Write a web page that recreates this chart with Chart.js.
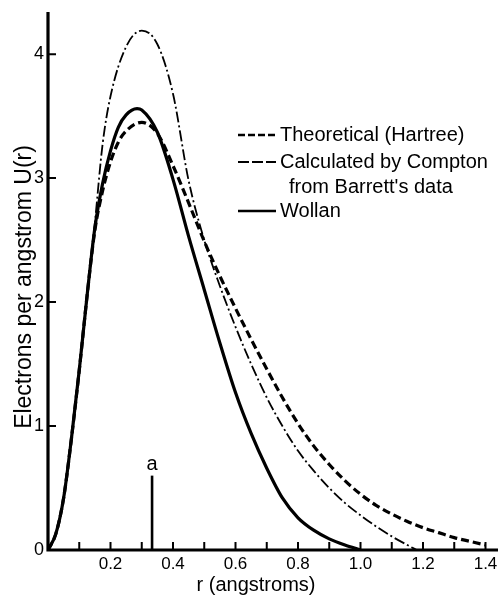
<!DOCTYPE html>
<html><head><meta charset="utf-8">
<script src="https://cdn.jsdelivr.net/npm/chart.js@4.4.0/dist/chart.umd.min.js"></script>
<style>html,body{margin:0;padding:0;background:#fff;}canvas{display:block;}</style>
</head><body>
<canvas id="c" width="499" height="596"></canvas>
<script>
// r (angstroms) grid points and U(r) values for each curve
const rTheo = [0,0.025,0.05,0.075,0.1,0.125,0.15,0.175,0.2,0.225,0.25,0.3,0.35,0.4,0.45,0.5,0.55,0.6,0.65,0.7,0.75,0.8,0.85,0.9,0.95,1.0,1.05,1.1,1.15,1.2,1.25,1.3,1.35,1.4];
const vTheo = [0,0.13,0.42,0.9,1.45,2.05,2.58,2.9,3.13,3.29,3.38,3.45,3.36,3.1,2.8,2.49,2.21,1.95,1.7,1.46,1.23,1.02,0.84,0.69,0.56,0.45,0.36,0.29,0.23,0.18,0.14,0.1,0.07,0.04];
const rCompton = [0,0.025,0.05,0.075,0.1,0.125,0.15,0.175,0.2,0.25,0.3,0.35,0.4,0.45,0.5,0.55,0.6,0.65,0.7,0.75,0.8,0.85,0.9,0.95,1.0,1.05,1.1,1.15,1.18];
const vCompton = [0,0.13,0.42,0.9,1.45,2.05,2.64,3.28,3.66,4.06,4.19,4.08,3.68,2.98,2.5,2.13,1.8,1.5,1.23,1.0,0.8,0.64,0.5,0.38,0.28,0.19,0.11,0.04,0];
const rWollan = [0,0.025,0.05,0.075,0.1,0.125,0.15,0.175,0.2,0.225,0.25,0.285,0.3,0.35,0.4,0.45,0.5,0.55,0.6,0.65,0.7,0.75,0.8,0.85,0.9,0.95,1.0];
const vWollan = [0,0.13,0.42,0.9,1.45,2.05,2.6,2.96,3.22,3.41,3.51,3.56,3.55,3.37,2.99,2.53,2.1,1.67,1.27,0.94,0.66,0.42,0.26,0.16,0.09,0.04,0];
// marker "a"
const markerR = [0.333, 0.333];
const markerV = [0, 0.6];
const markerText = 'a';
// axes
const xTickValues = [0.1,0.2,0.3,0.4,0.5,0.6,0.7,0.8,0.9,1.0,1.1,1.2,1.3,1.4];
const xLabelValues = [0.2,0.4,0.6,0.8,1.0,1.2,1.4];
const xLabelTexts = ['0.2','0.4','0.6','0.8','1.0','1.2','1.4'];
const yTickValues = [1,2,3,4];
const yLabelValues = [0,1,2,3,4];
const yLabelTexts = ['0','1','2','3','4'];
const xTitle = 'r (angstroms)';
const yTitle = 'Electrons per angstrom U(r)';
const seriesLabels = ['Theoretical (Hartree)', 'Calculated by Compton', 'Wollan'];
const legendExtra = "from Barrett's data";

const pts = (rs, vs) => rs.map((r, i) => ({x: r, y: vs[i]}));
const FONT = '"Liberation Sans", Arial, sans-serif';

const axesPlugin = {
  id: 'axesPlugin',
  afterDraw(chart) {
    const ctx = chart.ctx;
    const xs = chart.scales.x, ys = chart.scales.y;
    const x0 = xs.getPixelForValue(0), y0 = ys.getPixelForValue(0);
    ctx.save();
    ctx.strokeStyle = '#000'; ctx.fillStyle = '#000';
    ctx.setLineDash([]);
    // axis lines
    ctx.lineWidth = 3.2;
    ctx.beginPath();
    ctx.moveTo(x0, ys.top); ctx.lineTo(x0, y0 + 1.5);
    ctx.moveTo(x0 - 1.5, y0); ctx.lineTo(xs.right, y0);
    ctx.stroke();
    // inward ticks
    ctx.lineWidth = 2;
    ctx.beginPath();
    xTickValues.forEach(v => { const p = xs.getPixelForValue(v); ctx.moveTo(p, y0); ctx.lineTo(p, y0 - 8); });
    yTickValues.forEach(v => { const p = ys.getPixelForValue(v); ctx.moveTo(x0, p); ctx.lineTo(x0 + 8, p); });
    ctx.stroke();
    // tick labels
    ctx.font = '17px ' + FONT;
    ctx.textAlign = 'center'; ctx.textBaseline = 'middle';
    xLabelValues.forEach((v, i) => ctx.fillText(xLabelTexts[i], xs.getPixelForValue(v), y0 + 14));
    ctx.font = '18px ' + FONT;
    ctx.textAlign = 'right';
    yLabelValues.forEach((v, i) => ctx.fillText(yLabelTexts[i], x0 - 4, ys.getPixelForValue(v)));
    // titles
    ctx.font = '20px ' + FONT;
    ctx.textAlign = 'center';
    ctx.fillText(xTitle, 256, 585);
    ctx.save();
    ctx.translate(25, 287);
    ctx.rotate(-Math.PI / 2);
    ctx.font = '23px ' + FONT;
    ctx.fillText(yTitle, 0, 0);
    ctx.restore();
    // marker label
    ctx.font = '20px ' + FONT;
    ctx.fillText(markerText, xs.getPixelForValue(markerR[1]), ys.getPixelForValue(markerV[1]) - 11);
    // legend
    const rows = [135, 162, 211];
    const ds = chart.data.datasets;
    ctx.textAlign = 'left';
    for (let i = 0; i < 3; i++) {
      const d = ds[i];
      ctx.lineWidth = Math.min(d.borderWidth, 2.4);
      ctx.setLineDash(d.legendDash || []);
      ctx.beginPath(); ctx.moveTo(238, rows[i]); ctx.lineTo(276, rows[i]); ctx.stroke();
      ctx.setLineDash([]);
      ctx.fillText(seriesLabels[i], 280, rows[i]);
    }
    ctx.fillText(legendExtra, 289, 187);
    ctx.restore();
  }
};

new Chart(document.getElementById('c'), {
  type: 'line',
  data: {
    datasets: [
      {label: seriesLabels[0], data: pts(rTheo, vTheo), borderColor: '#000', borderWidth: 3.2, borderDash: [8, 4], legendDash: [7, 3], pointRadius: 0, cubicInterpolationMode: 'monotone', fill: false},
      {label: seriesLabels[1], data: pts(rCompton, vCompton), borderColor: '#000', borderWidth: 1.8, borderDash: [11, 3, 2, 3], legendDash: [11, 3], pointRadius: 0, cubicInterpolationMode: 'monotone', fill: false},
      {label: seriesLabels[2], data: pts(rWollan, vWollan), borderColor: '#000', borderWidth: 3.2, pointRadius: 0, cubicInterpolationMode: 'monotone', fill: false},
      {label: 'a', data: pts(markerR, markerV), borderColor: '#000', borderWidth: 2.6, pointRadius: 0, fill: false}
    ]
  },
  options: {
    responsive: false, animation: false, devicePixelRatio: 1,
    layout: {padding: {left: 48, right: 1, top: 12, bottom: 46}},
    plugins: {legend: {display: false}, tooltip: {enabled: false}},
    scales: {
      x: {type: 'linear', min: 0, max: 1.44, display: false},
      y: {type: 'linear', min: 0, max: 4.34, display: false}
    }
  },
  plugins: [axesPlugin]
});
</script>
</body></html>
